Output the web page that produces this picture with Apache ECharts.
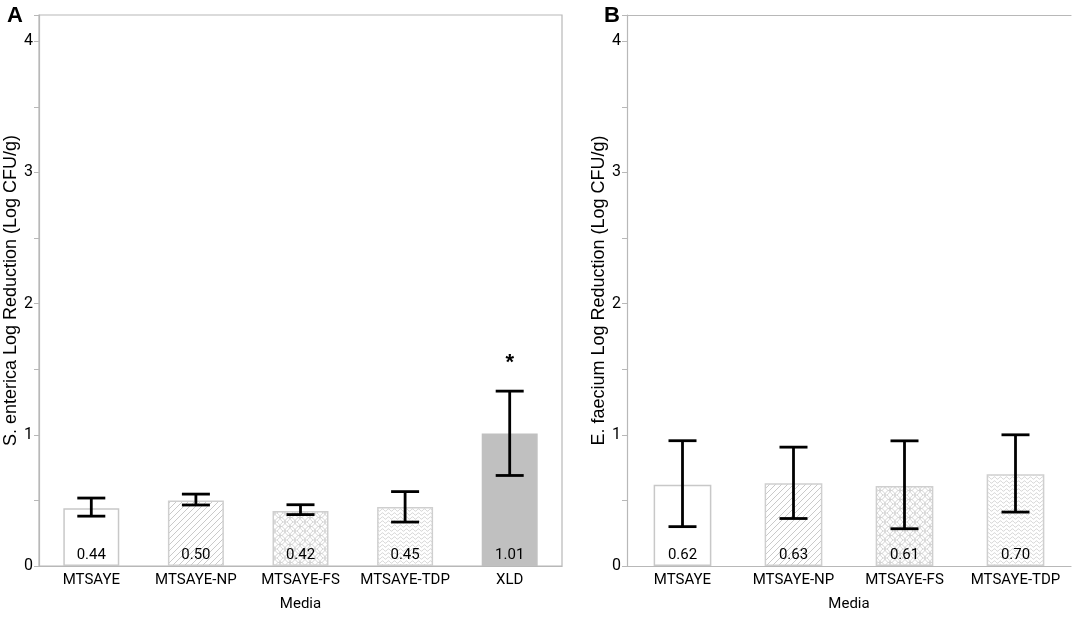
<!DOCTYPE html>
<html><head><meta charset="utf-8">
<script src="https://cdn.jsdelivr.net/npm/echarts@6/dist/echarts.min.js"></script>
<style>html,body{margin:0;padding:0;background:#fff}#c{width:1072px;height:617px}</style>
</head><body><div id="c"></div>
<script>
// ---- data ----
const categoriesA = ['MTSAYE', 'MTSAYE-NP', 'MTSAYE-FS', 'MTSAYE-TDP', 'XLD'];
const meansA = [0.44, 0.50, 0.42, 0.45, 1.01];
const lowA = [0.38, 0.465, 0.392, 0.335, 0.69];
const highA = [0.518, 0.548, 0.467, 0.567, 1.333];
const starsA = ['', '', '', '', '*'];

const categoriesB = ['MTSAYE', 'MTSAYE-NP', 'MTSAYE-FS', 'MTSAYE-TDP'];
const meansB = [0.62, 0.63, 0.61, 0.70];
const lowB = [0.30, 0.362, 0.284, 0.411];
const highB = [0.955, 0.906, 0.954, 1.0];

const yTickLabels = [0, 1, 2, 3, 4];
const titleA = 'S. enterica Log Reduction (Log CFU/g)';
const titleB = 'E. faecium Log Reduction (Log CFU/g)';
const xTitle = 'Media';

// ---- patterns ----
function makeCanvas(w, h) { const c = document.createElement('canvas'); c.width = w; c.height = h; return c; }
function diagPattern() {
  const c = makeCanvas(6, 6), g = c.getContext('2d');
  g.fillStyle = '#fff'; g.fillRect(0, 0, 6, 6);
  g.strokeStyle = '#cacaca'; g.lineWidth = 1;
  g.beginPath();
  g.moveTo(-1, 7); g.lineTo(7, -1);
  g.moveTo(-1, 1); g.lineTo(1, -1);
  g.moveTo(5, 7); g.lineTo(7, 5);
  g.stroke();
  return c;
}
function circlePattern() {
  const c = makeCanvas(10, 9), g = c.getContext('2d');
  g.fillStyle = '#fff'; g.fillRect(0, 0, 10, 9);
  g.strokeStyle = '#d2d2d2'; g.lineWidth = 0.9;
  [[0, 0], [10, 0], [0, 9], [10, 9], [5, 4.5]].forEach(p => {
    g.beginPath(); g.arc(p[0], p[1], 4.8, 0, Math.PI * 2); g.stroke();
  });
  return c;
}
function wavePattern() {
  const c = makeCanvas(6, 4), g = c.getContext('2d');
  g.fillStyle = '#fff'; g.fillRect(0, 0, 6, 4);
  g.strokeStyle = '#cccccc'; g.lineWidth = 0.9;
  g.beginPath();
  for (let x = 0; x <= 6; x += 0.5) {
    const y = 2 + 1.2 * Math.sin(x / 6 * Math.PI * 2);
    if (x === 0) g.moveTo(x, y); else g.lineTo(x, y);
  }
  g.stroke();
  return c;
}
const fills = [
  '#ffffff',
  { image: diagPattern(), repeat: 'repeat' },
  { image: circlePattern(), repeat: 'repeat' },
  { image: wavePattern(), repeat: 'repeat' },
  '#c0c0c0'
];
const borders = ['#c8c8c8', '#cfcfcf', '#cfcfcf', '#cfcfcf', '#c0c0c0'];

const cond = 'Roboto, "Liberation Sans", Arial, sans-serif';
const regular = '"Liberation Sans", Arial, sans-serif';
const axisGray = '#b8b8b8';

function barData(means) {
  return means.map((v, i) => ({
    value: v,
    itemStyle: { color: fills[i], borderColor: borders[i], borderWidth: 1.5 }
  }));
}
function errData(low, high, stars) {
  return low.map((l, i) => [i, l, high[i], stars ? stars[i] : '']);
}
function errRender(params, api) {
  const x = api.value(0);
  const pLo = api.coord([x, api.value(1)]);
  const pHi = api.coord([x, api.value(2)]);
  const hw = 14;
  const st = { stroke: '#000', lineWidth: 2.8 };
  const ch = [
    { type: 'line', shape: { x1: pLo[0], y1: pLo[1], x2: pHi[0], y2: pHi[1] }, style: st },
    { type: 'line', shape: { x1: pLo[0] - hw, y1: pLo[1], x2: pLo[0] + hw, y2: pLo[1] }, style: st },
    { type: 'line', shape: { x1: pHi[0] - hw, y1: pHi[1], x2: pHi[0] + hw, y2: pHi[1] }, style: st }
  ];
  const star = api.value(3);
  if (star) {
    ch.push({ type: 'text', style: { text: star, x: pHi[0], y: pHi[1] - 28, align: 'center', verticalAlign: 'middle',
      fontSize: 22, fontWeight: 'bold', fill: '#000', fontFamily: regular } });
  }
  return { type: 'group', children: ch };
}
function yAxis(gridIndex, name) {
  return {
    type: 'value', gridIndex, min: 0, max: 4.2, interval: 0.5,
    name, nameLocation: 'middle', nameGap: 18,
    nameTextStyle: { fontSize: 18, color: '#000', fontFamily: regular },
    axisLine: { show: true, lineStyle: { color: axisGray, width: 1.2 } },
    axisTick: { show: true, length: 5, lineStyle: { color: axisGray } },
    axisLabel: { fontSize: 16, color: '#000', fontFamily: cond, margin: 6,
      formatter: v => (yTickLabels.indexOf(v) >= 0 ? String(v) : '') },
    splitLine: { show: false }
  };
}
function xAxis(gridIndex, cats) {
  return {
    type: 'category', gridIndex, data: cats,
    name: xTitle, nameLocation: 'middle', nameGap: 31,
    nameTextStyle: { fontSize: 15, color: '#000', fontFamily: cond },
    axisLine: { show: true, lineStyle: { color: axisGray, width: 1.2 } },
    axisTick: { show: false },
    axisLabel: { fontSize: 15, color: '#000', fontFamily: cond, margin: 7, interval: 0 }
  };
}
const labelStyle = { show: true, position: 'insideBottom', distance: 3, fontSize: 15, color: '#000',
  fontFamily: cond, formatter: p => p.value.toFixed(2) };

const chart = echarts.init(document.getElementById('c'), null, { renderer: 'canvas' });
chart.setOption({
  backgroundColor: '#fff',
  animation: false,
  title: [
    { text: 'A', left: 2, top: 0, textStyle: { fontSize: 22, fontWeight: 'bold', color: '#000', fontFamily: regular } },
    { text: 'B', left: 599, top: 0, textStyle: { fontSize: 22, fontWeight: 'bold', color: '#000', fontFamily: regular } }
  ],
  grid: [
    { left: 39, top: 15, width: 523, height: 556, show: true, borderColor: axisGray, borderWidth: 1.2, backgroundColor: 'transparent' },
    { left: 627, top: 15, width: 444, height: 554 }
  ],
  xAxis: [
    xAxis(0, categoriesA),
    xAxis(1, categoriesB),
    { type: 'value', gridIndex: 1, position: 'top', min: 0, max: 1,
      axisLine: { show: true, onZero: false, lineStyle: { color: axisGray, width: 1.2 } },
      axisTick: { show: false }, axisLabel: { show: false }, splitLine: { show: false } }
  ],
  yAxis: [yAxis(0, titleA), yAxis(1, titleB)],
  series: [
    { type: 'bar', xAxisIndex: 0, yAxisIndex: 0, barWidth: '53.5%', data: barData(meansA), label: labelStyle },
    { type: 'custom', xAxisIndex: 0, yAxisIndex: 0, renderItem: errRender, data: errData(lowA, highA, starsA), z: 5,
      encode: { x: 0, y: [1, 2] } },
    { type: 'bar', xAxisIndex: 1, yAxisIndex: 1, barWidth: '52%', data: barData(meansB), label: labelStyle },
    { type: 'custom', xAxisIndex: 1, yAxisIndex: 1, renderItem: errRender, data: errData(lowB, highB), z: 5,
      encode: { x: 0, y: [1, 2] } }
  ]
});
</script>
</body></html>
